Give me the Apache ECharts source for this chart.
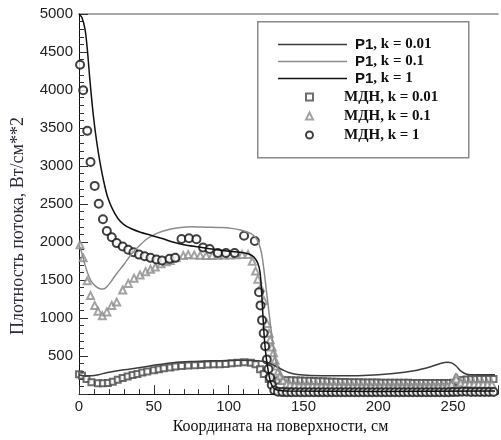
<!DOCTYPE html>
<html>
<head>
<meta charset="utf-8">
<script src="https://cdn.jsdelivr.net/npm/echarts@6/dist/echarts.min.js"></script>
<style>
html, body { margin: 0; padding: 0; background: #fff; }
#chart { width: 501px; height: 440px; }
</style>
</head>
<body>
<div id="chart"></div>
<script>
// values, [x (cm), flux]
const xTicks = [0, 50, 100, 150, 200, 250];
const yTicks = [500, 1000, 1500, 2000, 2500, 3000, 3500, 4000, 4500, 5000];

const p1k001 = [[0,255],[2,245],[4,238],[8,240],[13,255],[19,284],[30,320],[41,349],[52,385],[63,413],[75,428],[85,435],[95,440],[107,445],[115,443],[120,438],[124,430],[128,400],[132,360],[136,320],[140,285],[146,258],[155,245],[170,240],[190,245],[210,270],[224,306],[235,360],[242,405],[246,420],[249,410],[252,370],[255,306],[259,262],[265,255],[278,255]];

const p1k01 = [[0,1960],[2,1850],[4,1700],[6,1580],[8,1490],[11,1420],[14,1385],[16,1382],[18,1400],[21,1470],[25,1580],[30,1705],[35,1840],[41,1964],[46,2050],[52,2115],[60,2165],[68,2190],[75,2200],[85,2195],[95,2190],[102,2180],[108,2160],[112,2135],[115,2110],[118,2060],[120,1990],[122,1850],[123.5,1650],[125,1400],[126.5,1150],[128,900],[129,760],[130,600],[131,470],[133,330],[135,240],[138,180],[142,150],[150,135],[200,130],[245,135],[249,160],[252,270],[255,190],[258,160],[278,158]];

const p1k1 = [[0,5000],[2,4950],[4,4800],[5.5,4550],[7.2,4150],[9.4,3700],[11.6,3350],[14,3050],[16.5,2800],[19,2600],[22,2450],[26,2310],[30,2230],[35,2175],[41,2130],[48,2090],[55,2050],[62,2005],[70,1965],[80,1935],[90,1905],[100,1880],[110,1860],[114,1840],[117,1800],[119.5,1720],[121,1600],[122,1350],[123,1000],[124,700],[125,500],[126.5,300],[128,160],[130,80],[133,50],[140,40],[200,35],[278,40]];

const mdn001 = [[0,262],[2,241],[5,198],[8.3,155],[12.7,142],[16,142],[19.3,146],[22.6,163],[25.9,189],[29.2,211],[32.5,233],[35.8,250],[39,263],[42.3,284],[45.6,297],[50,315],[53.3,327],[56.6,340],[61,349],[64.3,362],[68.6,370],[73,375],[77.4,379],[81.8,383],[86,388],[90,392],[94,392],[98,395],[102,405],[106,412],[110.5,418],[115,413],[118,392],[121,327],[123.5,263],[126.8,198],[130,177],
  [133,180],[136,182],[139,183],[142,182],[145,180],[148,178],[151,176],[154,174],[157,172],[160,170],[163,168],[166,166],[169,164],[172,162],[175,160],[178,158],[181,157],[184,156],[187,155],[190,154],[193,153],[196,152],[199,151],[202,150],[205,150],[208,149],[211,149],[214,148],[217,148],[220,148],[223,147],[226,147],[229,147],[232,146],[235,146],[238,146],[241,146],[244,146],[247,147],[250,150],[253,165],[256,185],[259,192],[262,195],[265,196],[268,197],[271,197],[274,198],[277,198]];

const mdn01 = [[0.7,1964],[2.8,1792],[5.5,1490],[7.7,1296],[10.5,1167],[12.7,1089],[15.6,1030],[18.6,1081],[21.9,1167],[25.2,1210],[29.2,1370],[32.9,1456],[36.8,1525],[40.8,1567],[44.5,1611],[47.8,1641],[51,1671],[54.8,1714],[58.3,1740],[61,1757],[65,1792],[69.7,1822],[73,1835],[77,1830],[81,1826],[85,1822],[89,1822],[93,1826],[97,1830],[101,1830],[105,1833],[109,1835],[113,1835],[115.8,1748],[118,1620],[119.5,1512],[121.3,1400],[123.5,1231],[125.6,930],[127,800],[127.8,715],[129,620],[130,543],[131,450],[132,371],[133.2,300],[134.4,241],[136.5,180],[138.8,133],
  [141,122],[144,115],[147,110],[150,108],[153,106],[156,105],[159,104],[162,103],[165,102],[168,102],[171,101],[174,101],[177,100],[180,100],[183,100],[186,99],[189,99],[192,99],[195,98],[198,98],[201,98],[204,98],[207,97],[210,97],[213,97],[216,97],[219,97],[222,97],[225,97],[228,97],[231,97],[234,98],[237,98],[240,99],[243,100],[246,105],[249,130],[252,200],[255,150],[258,140],[261,135],[264,133],[267,132],[270,131],[273,130],[276,130]];

const mdn1 = [[0.7,4332],[2.8,3996],[5.5,3463],[7.7,3053],[10.5,2739],[13.2,2505],[16,2300],[18.6,2145],[21.9,2063],[25.2,1986],[29.2,1942],[32.9,1899],[36.4,1865],[40.1,1835],[43.9,1813],[47.8,1792],[51.8,1770],[55.5,1757],[60.5,1779],[64.3,1792],[68.5,2040],[73.5,2050],[78.5,2037],[82.9,1929],[87.3,1908],[92.8,1856],[98.2,1856],[104,1856],[110.3,2084],[117.5,2015],[120.3,1340],[121.3,1167],[122.3,973],[123.4,801],[124.4,629],[125.5,456],[126.6,330],[127.7,220],[128.8,120],[130.5,50],
  [133,30],[136,26],[139,25],[142,25],[145,24],[148,25],[151,25],[154,24],[157,25],[160,25],[163,24],[166,25],[169,25],[172,24],[175,25],[178,25],[181,24],[184,25],[187,25],[190,24],[193,25],[196,25],[199,24],[202,25],[205,25],[208,24],[211,25],[214,25],[217,24],[220,25],[223,25],[226,24],[229,25],[232,25],[235,24],[238,25],[241,25],[244,24],[247,25],[250,26],[253,28],[256,30],[259,30],[262,29],[265,28],[268,28],[271,27],[274,27],[277,27]];

const lineNames = ['P1, k = 0.01', 'P1, k = 0.1', 'P1, k = 1'];
const dotNames = ['МДН, k = 0.01', 'МДН, k = 0.1', 'МДН, k = 1'];

const chart = echarts.init(document.getElementById('chart'));

const axisFont = { fontFamily: 'Liberation Sans', fontSize: 15, color: '#222' };

chart.setOption({
  backgroundColor: '#fff',
  animation: false,
  grid: { left: 79, right: 0, top: 14, bottom: 38 },
  xAxis: [{
    type: 'value',
    min: 0,
    max: 280,
    interval: 50,
    name: 'Координата на поверхности, см',
    nameLocation: 'middle',
    nameGap: 21,
    nameTextStyle: { fontFamily: 'Liberation Serif', fontSize: 16, color: '#111', padding: [0, 16, 0, 0] },
    axisLine: { lineStyle: { color: '#111', width: 1 } },
    axisTick: { inside: true, length: 9, lineStyle: { color: '#333' } },
    minorTick: { show: true, splitNumber: 5, length: 5, lineStyle: { color: '#333' } },
    axisLabel: Object.assign({ margin: 5, formatter: v => xTicks.includes(v) ? String(v) : '' }, axisFont),
    splitLine: { show: false }
  }, {
    type: 'value',
    position: 'top',
    min: 0,
    max: 280,
    axisLine: { show: true, lineStyle: { color: '#8a8a8a', width: 1.5 } },
    axisTick: { show: false },
    axisLabel: { show: false },
    splitLine: { show: false }
  }],
  yAxis: {
    type: 'value',
    min: 0,
    max: 5000,
    interval: 500,
    name: 'Плотность потока, Вт/см**2',
    nameLocation: 'middle',
    nameGap: 52,
    nameTextStyle: { fontFamily: 'Liberation Serif', fontSize: 18, color: '#2b2b3a', padding: [0, 44, 0, 0] },
    axisLine: { show: true, lineStyle: { color: '#111', width: 1 } },
    axisTick: { inside: true, length: 9, lineStyle: { color: '#333' } },
    minorTick: { show: true, splitNumber: 5, length: 5, lineStyle: { color: '#333' } },
    axisLabel: Object.assign({ margin: 6, formatter: v => yTicks.includes(v) ? String(v) : '' }, axisFont),
    splitLine: { show: false }
  },
  graphic: [{
    type: 'rect',
    left: 257,
    top: 21,
    z: 3,
    shape: { width: 211, height: 136 },
    style: { fill: '#fff', stroke: '#8a8a8a', lineWidth: 1.5 }
  }],
  legend: [{
    data: lineNames,
    orient: 'vertical',
    left: 273,
    top: 32,
    icon: 'rect',
    itemWidth: 69,
    itemHeight: 1.6,
    itemGap: 2,
    selectedMode: false,
    z: 5,
    formatter: name => {
      const i = name.indexOf(',');
      return '{a|' + name.slice(0, i) + '}{b|' + name.slice(i) + '}';
    },
    textStyle: {
      padding: [0, 0, 0, 3],
      rich: {
        a: { fontFamily: 'Liberation Sans', fontWeight: 'bold', fontSize: 15, color: '#111', lineHeight: 15 },
        b: { fontFamily: 'Liberation Serif', fontWeight: 'bold', fontSize: 15, color: '#111', lineHeight: 15 }
      }
    }
  }, {
    data: dotNames,
    orient: 'vertical',
    left: 300,
    top: 84,
    itemWidth: 7,
    itemHeight: 7,
    itemGap: 3,
    selectedMode: false,
    z: 5,
    textStyle: {
      padding: [0, 0, 0, 26],
      fontFamily: 'Liberation Serif',
      fontWeight: 'bold',
      fontSize: 15,
      lineHeight: 16,
      color: '#111'
    }
  }],
  series: [
    { name: lineNames[0], type: 'line', data: p1k001, smooth: 0.3, symbol: 'none', lineStyle: { color: '#3c3c3c', width: 1.5 }, itemStyle: { color: '#3c3c3c' } },
    { name: lineNames[1], type: 'line', data: p1k01, smooth: 0.3, symbol: 'none', lineStyle: { color: '#8c8c8c', width: 1.5 }, itemStyle: { color: '#8c8c8c' } },
    { name: lineNames[2], type: 'line', data: p1k1, smooth: 0.3, symbol: 'none', lineStyle: { color: '#111', width: 1.5 }, itemStyle: { color: '#111' } },
    { name: dotNames[0], type: 'scatter', data: mdn001, symbol: 'emptyRect', symbolSize: 6, itemStyle: { color: '#4a4a4a', borderWidth: 1.2 } },
    { name: dotNames[1], type: 'scatter', data: mdn01, symbol: 'emptyTriangle', symbolSize: 7, itemStyle: { color: '#8c8c8c', borderWidth: 1.2 } },
    { name: dotNames[2], type: 'scatter', data: mdn1, symbol: 'emptyCircle', symbolSize: 8, itemStyle: { color: '#111', borderWidth: 1.3 } }
  ]
});
</script>
</body>
</html>
